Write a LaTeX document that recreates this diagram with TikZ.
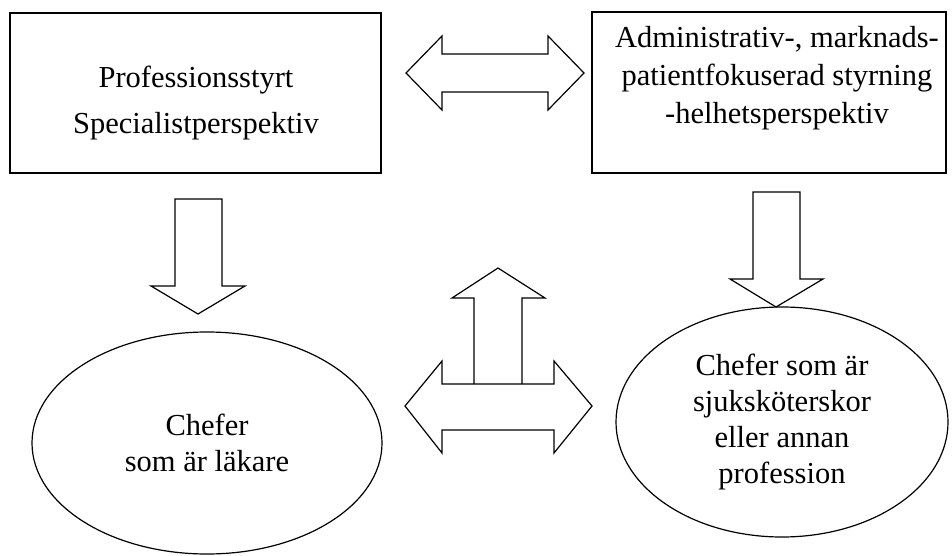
\documentclass[tikz,border=0pt]{standalone}
\usepackage{fontspec}
\setmainfont{Liberation Serif}
\usetikzlibrary{shapes.geometric}
\begin{document}
\begin{tikzpicture}[x=1pt,y=-1pt,
  shapeline/.style={draw=black,line width=1.2pt,line join=miter},
  boxshape/.style={shapeline,rectangle,inner sep=0pt},
  ovalshape/.style={shapeline,ellipse,inner sep=0pt,align=center,font=\fontsize{30.5}{36}\selectfont},
  txt/.style={inner sep=0pt,align=center},
  blockarrow/.style={shapeline}]
\useasboundingbox (0,0) rectangle (952,556);
% boxes
\node[boxshape,minimum width=371pt,minimum height=160pt] (box1) at (195.5,93) {};
\node[txt,font=\fontsize{30.5}{46}\selectfont] (box1text) at (196,103) {Professionsstyrt\\Specialistperspektiv};
\node[boxshape,minimum width=354pt,minimum height=161pt] (box2) at (769,92.5) {};
\node[txt,font=\fontsize{30.5}{38}\selectfont] (box2text) at (777,78) {Administrativ-, marknads-\\patientfokuserad styrning\\-helhetsperspektiv};
% ellipses
\node[ovalshape,minimum width=350pt,minimum height=222pt] (oval1) at (207,443) {Chefer\\som är läkare};
\node[ovalshape,minimum width=332pt,minimum height=230pt] (oval2) at (782,422) {Chefer som är\\sjuksköterskor\\eller annan\\profession};
% top double arrow between boxes
\draw[blockarrow] (406,73) -- (442,36) -- (442,54) -- (548,54) -- (548,36) -- (584,73)
  -- (548,110) -- (548,92) -- (442,92) -- (442,110) -- cycle;
% left down arrow
\draw[blockarrow] (175,199) -- (222,199) -- (222,286) -- (245,286) -- (198,314)
  -- (151,286) -- (175,286) -- cycle;
% right down arrow
\draw[blockarrow] (753,192) -- (800,192) -- (800,279) -- (823,279) -- (776,307)
  -- (730,279) -- (753,279) -- cycle;
% up arrow
\draw[blockarrow] (474,384) -- (474,298) -- (452,298) -- (498,268) -- (545,298)
  -- (522,298) -- (522,384);
% bottom double arrow
\draw[blockarrow] (405,406) -- (442,361) -- (442,384) -- (554,384) -- (554,361) -- (592,406)
  -- (554,453) -- (554,430) -- (442,430) -- (442,453) -- cycle;
\end{tikzpicture}
\end{document}
